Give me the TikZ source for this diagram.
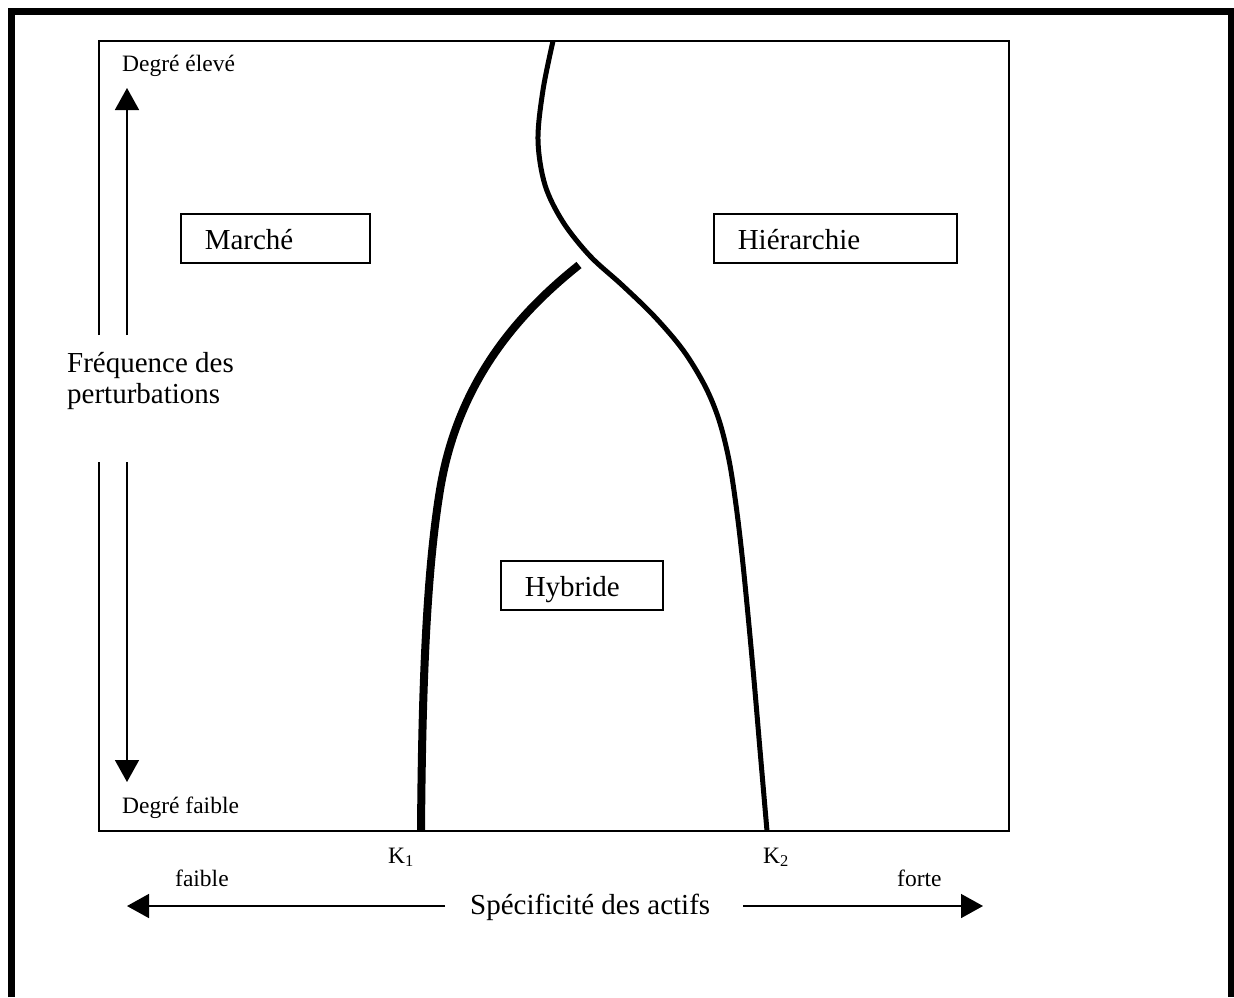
\documentclass[tikz,border=0pt]{standalone}
\usepackage{fontspec}
\setmainfont{Liberation Serif}
\usetikzlibrary{arrows.meta}
\begin{document}
\begin{tikzpicture}[x=1pt,y=-1pt,
  bigtxt/.style={font=\fontsize{29}{31}\selectfont},
  smalltxt/.style={font=\fontsize{23.5}{26}\selectfont},
  regionbox/.style={draw, line width=1.6pt, bigtxt, inner ysep=0pt, inner xsep=24pt,
    align=left, text height=22pt, text depth=0pt, minimum height=49pt, anchor=north west},
  axisarrow/.style={line width=1.6pt, -{Triangle[length=22pt,width=24pt]}},
  curve/.style={line width=#1, line cap=butt, line join=round},
  lbl/.style={anchor=base west, inner sep=0pt}
]
\useasboundingbox (0,0) rectangle (1234,997);
% outer frame
\draw[line width=7pt] (11.5,997) -- (11.5,11.5) -- (1231.5,11.5) -- (1231.5,997);
% inner frame (broken at the vertical axis label)
\draw[line width=1.6pt] (99,335) -- (99,41) -- (1009,41) -- (1009,831) -- (99,831) -- (99,462);

% axis labels
\node[lbl, smalltxt] (high) at (122,71) {Degré élevé};
\node[lbl, smalltxt] (low) at (122,813) {Degré faible};
\node[lbl, bigtxt, align=left] (freq) at (67,403) {Fréquence des\\perturbations};

\coordinate (vup0) at (127,335);
\coordinate (vup1) at (127,88);
\coordinate (vdn0) at (127,462);
\coordinate (vdn1) at (127,782);
\draw[axisarrow] (vup0) -- (vup1);
\draw[axisarrow] (vdn0) -- (vdn1);

\node[lbl, bigtxt] (spec) at (470,914) {Spécificité des actifs};
\coordinate (hl0) at (445,906);
\coordinate (hl1) at (127,906);
\coordinate (hr0) at (743,906);
\coordinate (hr1) at (983,906);
\draw[axisarrow] (hl0) -- (hl1);
\draw[axisarrow] (hr0) -- (hr1);

\node[lbl, smalltxt] (faible) at (175,886) {faible};
\node[lbl, smalltxt] (forte) at (897,886) {forte};
\node[lbl, smalltxt] (k1) at (388,863) {K\textsubscript{1}};
\node[lbl, smalltxt] (k2) at (763,863) {K\textsubscript{2}};

% region boxes
\node[regionbox, text width=141pt] (marche) at (180,213) {Marché};
\node[regionbox, text width=195pt] (hier) at (713,213) {Hiérarchie};
\node[regionbox, text width=114pt] (hyb) at (500,560) {Hybride};

% boundary curves
\draw[curve=5pt] plot[smooth, tension=0.55] coordinates {
  (553,41) (543,90) (538,140) (545,185) (563,222) (590,256) (622,285)
  (654,316) (683,350) (705,386) (719,420) (729,460) (736,505) (742,555)
  (748,615) (754,680) (760,750) (767,831)};
\draw[curve=8pt] (579,265) .. controls (520,312) and (458,380) .. (440,490)
  .. controls (425.6,578) and (422,700) .. (421,831);
\end{tikzpicture}
\end{document}
